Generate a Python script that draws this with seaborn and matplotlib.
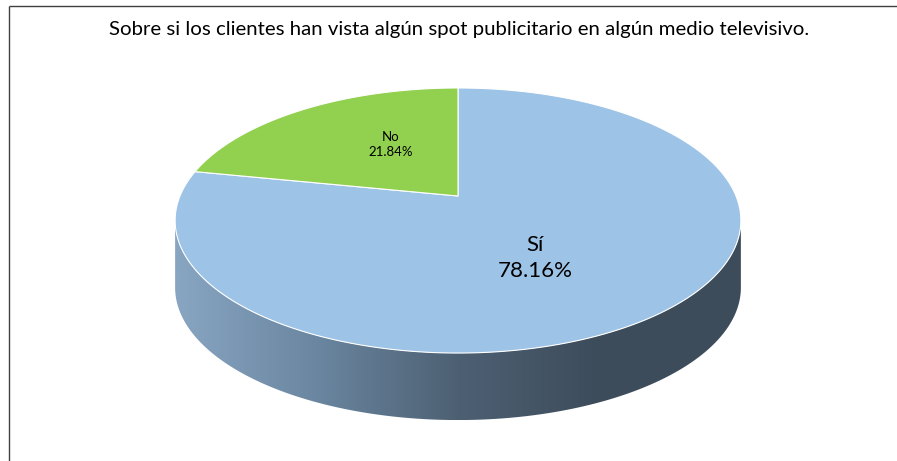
import numpy as np
import matplotlib
matplotlib.use("Agg")
import matplotlib.pyplot as plt
from matplotlib.patches import Polygon
from matplotlib.colors import LinearSegmentedColormap
import seaborn as sns

# datos
categorias = ["Sí", "No"]
porcentajes = [78.16, 21.84]
colores = ["#9dc3e6", "#92d050"]
titulo = "Sobre si los clientes han vista algún spot publicitario en algún medio televisivo."

sns.set_theme(style="white")
plt.rcParams['font.family'] = ['Lato', 'DejaVu Sans']

fig = plt.figure(figsize=(8.97, 4.61), dpi=100)
ax = fig.add_axes([0, 0, 1, 1])

# geometria del pastel 3D (en pixeles)
cx, cy = 458, 196
A, B, k = 278, 128, 0.185
prof = 67


def proy(t, r=1.0):
    X = r * np.cos(t)
    Y = r * np.sin(t)
    d = 1 + k * Y
    return cx + A * X / d, cy - B * Y / d


# lado del cilindro con degradado
a0 = np.arcsin(k)
t_lado = np.linspace(-a0, -np.pi + a0, 300)
xs, ys = proy(t_lado)
pts = np.column_stack([np.r_[xs, xs[::-1]], np.r_[ys, ys[::-1] + prof]])
lado = Polygon(pts, closed=True, facecolor='none', edgecolor='none', transform=ax.transData)
ax.add_patch(lado)
cmap = LinearSegmentedColormap.from_list('lado', ['#88a5c2', '#6a86a0', '#4d6073', '#3d4c5b', '#3d4c5b'])
grad = np.linspace(0, 1, 512)[None, :]
im = ax.imshow(grad, extent=(xs.min(), xs.max(), ys.max() + prof, ys.min()),
               cmap=cmap, aspect='auto', interpolation='bilinear')
im.set_clip_path(lado)

# cara superior
inicio = 90.0
for cat, val, col in zip(categorias, porcentajes, colores):
    fin = inicio - val * 3.6
    t = np.radians(np.linspace(inicio, fin, 200))
    x, y = proy(t)
    poly = np.column_stack([np.r_[cx, x], np.r_[cy, y]])
    ax.add_patch(Polygon(poly, closed=True, facecolor=col, edgecolor='white', lw=0.8, zorder=3))
    inicio = fin

# etiquetas
ax.text(535, 258, f"{categorias[0]}\n{porcentajes[0]:.2f}%", ha='center', va='center',
        fontsize=16, linespacing=1.35, color='#000000', zorder=5)
ax.text(391, 144, f"{categorias[1]}\n{porcentajes[1]:.2f}%", ha='center', va='center',
        fontsize=9.5, linespacing=1.3, color='#000000', zorder=5)

ax.text(459, 30, titulo, ha='center', va='center', fontsize=14.7, color='#000000')

# marco (recortado)
ax.plot([9, 897], [6, 6], color='#404040', lw=1.0, solid_capstyle='butt')
ax.plot([9, 9], [6, 461], color='#404040', lw=1.0, solid_capstyle='butt')

ax.set_xlim(0, 897)
ax.set_ylim(461, 0)
ax.axis('off')

fig.savefig('out.png', dpi=100)
